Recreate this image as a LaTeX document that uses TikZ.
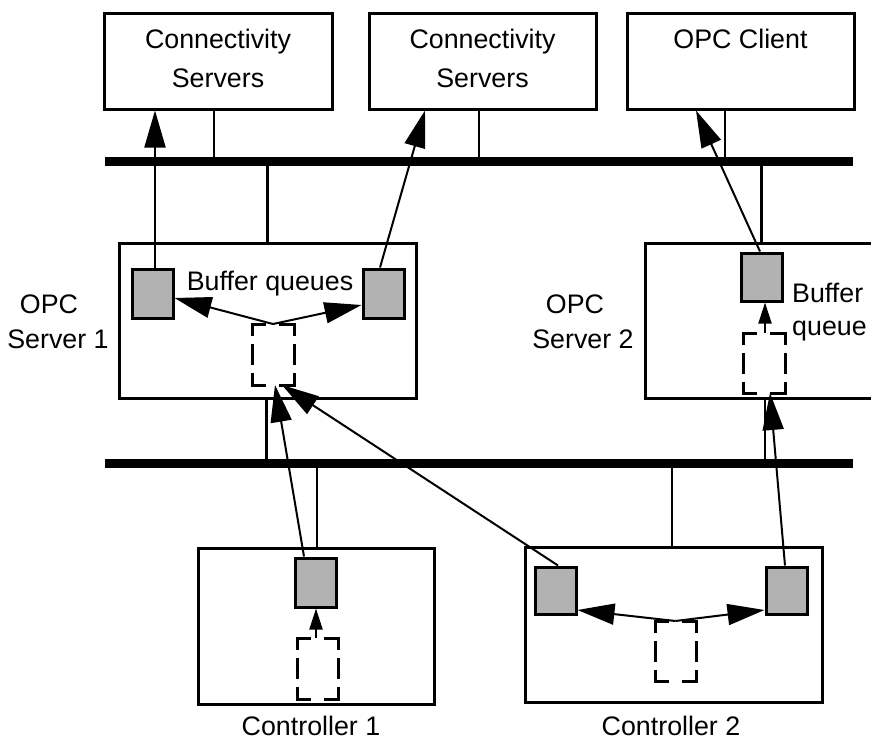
\documentclass[tikz,border=0pt]{standalone}
\usepackage{fontspec}
\setmainfont{Liberation Sans}
\usetikzlibrary{arrows.meta,calc}
\tikzset{
  box/.style={draw, line width=3pt, inner sep=0pt, fill=white},
  gbox/.style={draw, line width=3pt, inner sep=0pt, fill=black!30, minimum width=41pt},
  dbox/.style={draw=none, inner sep=0pt, outer sep=0pt, minimum width=41pt},
  dside/.style={line width=3pt, line cap=rect},
  bus/.style={fill=black, inner sep=0pt, outer sep=0pt, minimum width=748pt, minimum height=9pt},
  stem/.style={line width=2.5pt},
  arr/.style={line width=2pt, -{Triangle[length=37pt,width=21pt]}},
  sarr/.style={line width=2pt, -{Triangle[length=21pt,width=13pt]}},
  txt/.style={inner sep=0pt, anchor=base, font=\fontsize{26.8pt}{30pt}\selectfont},
}
\newcommand\drawdashedsides[1]{%
  \draw[dside, dash pattern=on 12.5pt off 16pt on 20pt] (#1.north west) -- (#1.north east);
  \draw[dside, dash pattern=on 12.5pt off 16pt on 20pt] (#1.south west) -- (#1.south east);
  \draw[dside, dash pattern=on 10.5pt off 11pt on 18pt off 11pt on 20pt] (#1.north west) -- (#1.south west);
  \draw[dside, dash pattern=on 10.5pt off 11pt on 18pt off 11pt on 20pt] (#1.north east) -- (#1.south east);
}
\begin{document}
\begin{tikzpicture}[x=1pt, y=-1pt]
\useasboundingbox (0,0) rectangle (871,739);
\clip (0,0) rectangle (871,739);
\fill[white] (0,0) rectangle (871,739);

% top boxes
\node[box, minimum width=228pt, minimum height=96pt] (cs1) at (218,61) {};
\node[box, minimum width=227pt, minimum height=96pt] (cs2) at (482.5,61) {};
\node[box, minimum width=227pt, minimum height=96pt] (client) at (740.5,61) {};
\node[txt] (cs1t1) at (218,48) {Connectivity};
\node[txt] (cs1t2) at (218,87) {Servers};
\node[txt] (cs2t1) at (482.5,48) {Connectivity};
\node[txt] (cs2t2) at (482.5,87) {Servers};
\node[txt] (clientt) at (740.5,48) {OPC Client};

% buses
\node[bus] (bus1) at (479,161.5) {};
\node[bus] (bus2) at (479,463) {};

% servers
\node[box, minimum width=297pt, minimum height=155pt] (server1) at (267.5,320.5) {};
\node[box, minimum width=250pt, minimum height=155pt] (server2) at (770,320.5) {};
\node[txt] (s1l1) at (49,313) {OPC};
\node[txt] (s1l2) at (58,348) {Server 1};
\node[txt] (s2l1) at (575,313) {OPC};
\node[txt] (s2l2) at (583,348) {Server 2};

% controllers
\node[box, minimum width=236pt, minimum height=156pt] (ctl1) at (316,626) {};
\node[box, minimum width=297pt, minimum height=155pt] (ctl2) at (673.5,624.5) {};
\node[txt] (c1l) at (311,735) {Controller 1};
\node[txt] (c2l) at (671,735) {Controller 2};

% buffer queues (grey)
\node[gbox, minimum height=49pt] (s1a) at (152.5,293.5) {};
\node[gbox, minimum height=49pt] (s1b) at (383.5,293.5) {};
\node[gbox, minimum height=48pt] (s2a) at (761.5,277) {};
\node[gbox, minimum height=49pt] (c1a) at (315.5,582.5) {};
\node[gbox, minimum height=47pt] (c2a) at (555.5,590.5) {};
\node[gbox, minimum height=47pt] (c2b) at (786.5,590.5) {};
\node[txt] (bq) at (270,290) {Buffer queues};
\node[txt, anchor=base west] (bq2a) at (792,302) {Buffer};
\node[txt, anchor=base west] (bq2b) at (792,335) {queue};

% dashed sources
\node[dbox, minimum width=42pt, minimum height=61pt] (s1d) at (273,354.5) {};
\node[dbox, minimum width=42pt, minimum height=60pt] (s2d) at (764,363) {};
\node[dbox, minimum height=61pt] (c1d) at (317.5,668.5) {};
\node[dbox, minimum height=60pt] (c2d) at (675.5,651) {};
\drawdashedsides{s1d}
\drawdashedsides{s2d}
\drawdashedsides{c1d}
\drawdashedsides{c2d}

% stems to buses
\coordinate (k1) at ($(cs1.south)+(-4,0)$);
\coordinate (k2) at ($(cs2.south)+(-3.5,0)$);
\coordinate (k3) at ($(client.south)+(-15.5,0)$);
\coordinate (k4) at ($(s2d.south)+(1,0)$);
\coordinate (k5) at ($(ctl1.north)+(1,0)$);
\coordinate (k6) at ($(ctl2.north)+(-1.5,0)$);
\draw[stem] (k1) -- (k1 |- bus1.north);
\draw[stem] (k2) -- (k2 |- bus1.north);
\draw[stem] (k3) -- (k3 |- bus1.north);
\draw[stem] (server1.north |- bus1.south) -- (server1.north);
\draw[stem] (s2a.north |- bus1.south) -- (s2a.north |- server2.north);
\draw[stem] ($(server1.south)+(-1,0)$) -- ($(server1.south |- bus2.north)+(-1,0)$);
\draw[stem] (k4 |- server2.south) -- (k4 |- bus2.north);
\draw[stem] (k5 |- bus2.south) -- (k5);
\draw[stem] (k6 |- bus2.south) -- (k6);

% arrows
\coordinate (aA) at ($(s1a.north)+(2.5,0)$);
\draw[arr] (aA) -- (aA |- cs1.south);
\draw[arr] ($(s1b.north)+(-3.5,0)$) -- ($(cs2.south)+(-57.5,0)$);
\draw[arr] ($(s2a.north)+(-1.5,0)$) -- ($(client.south)+(-44.5,0)$);
\draw[arr] (s1d.north) -- ($(s1a.east)+(0,4.5)$);
\draw[arr] (s1d.north) -- ($(s1b.west)+(0,11.5)$);
\draw[arr] ($(c1a.north)+(-11.5,0)$) -- ($(s1d.south)+(2,0)$);
\draw[arr] ($(c2a.north)+(2.5,0)$) -- ($(s1d.south)+(9,0)$);
\draw[arr] ($(c2b.north)+(-1.5,0)$) -- ($(s2d.south)+(6,0)$);
\draw[arr] (c2d.north) -- ($(c2a.east)+(0,19.5)$);
\draw[arr] (c2d.north) -- ($(c2b.west)+(0,19.5)$);
\draw[sarr] ($(c1d.north)+(-1.5,0)$) -- ($(c1d.north |- c1a.south)+(-1.5,0)$);
\draw[sarr] ($(s2d.north)+(1,0)$) -- ($(s2d.north |- s2a.south)+(1,0)$);
\end{tikzpicture}
\end{document}
